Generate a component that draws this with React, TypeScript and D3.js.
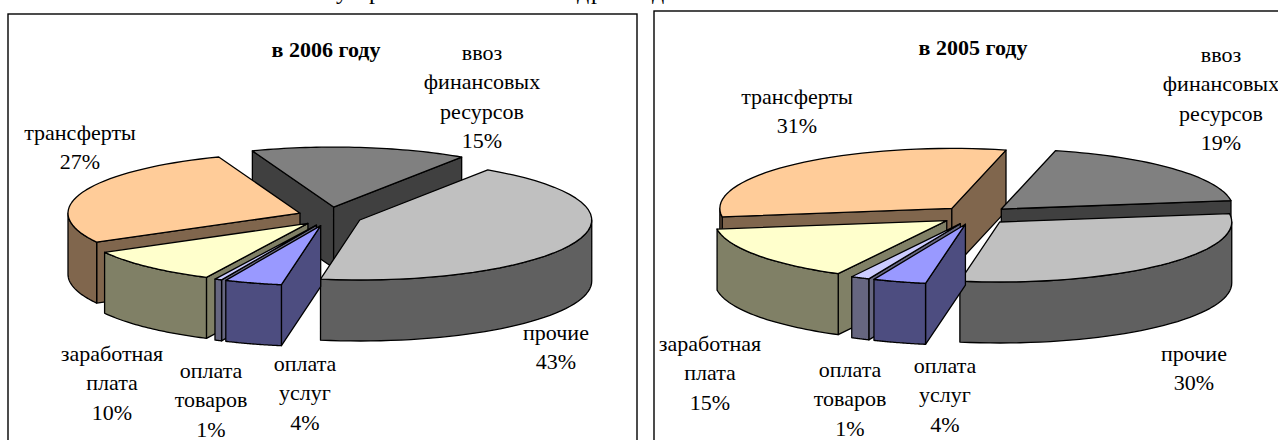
import React from "react";
import * as d3 from "d3";

const W = 1278;
const H = 440;

// order is clockwise, starting from the back slice
const categories = ["ввоз финансовых ресурсов", "прочие", "оплата услуг", "оплата товаров", "заработная плата", "трансферты"];
const values2006 = [15, 43.4, 4, 0.5, 9.8, 27.3];
const values2005 = [19, 30, 3.7, 1.3, 15, 31];

const labelLines = [
  ["ввоз", "финансовых", "ресурсов"],
  ["прочие"],
  ["оплата", "услуг"],
  ["оплата", "товаров"],
  ["заработная", "плата"],
  ["трансферты"],
];

// line above the charts, cut by the page edge: only the tails of these letters show
const cutLetters = ["у", "р", "д", "р", "д"];
const cutLetterX = [342, 375, 583, 597, 658];

const topColors = ["#808080", "#c0c0c0", "#9999ff", "#ccccff", "#ffffcc", "#ffcc99"];
const sideColors = ["#404040", "#606060", "#4d4d80", "#666680", "#808066", "#80664d"];

const LINE_H = 29.3;
const RX = 232;
const RY = 60;
const DEPTH = 61;

const charts = [
  {
    title: "в 2006 году",
    values: values2006,
    frame: { x: 8, y: 14, w: 629, h: 440 },
    titlePos: [326, 57],
    cx: 330,
    cy: 216.5,
    explodeX: 32,
    explodeY: 9.5,
    startDeg: -20.5,
    // first baseline of every label
    labelPos: [[482, 60], [556, 340], [305, 371], [211, 378], [112, 361], [80, 140]],
  },
  {
    title: "в 2005 году",
    values: values2005,
    frame: { x: 654, y: 11, w: 640, h: 440 },
    titlePos: [973, 55],
    cx: 975.4,
    cy: 215.3,
    explodeX: 35,
    explodeY: 9.3,
    startDeg: 13.5,
    labelPos: [[1221, 62], [1194, 361], [945, 373], [850, 377], [710, 351], [797, 104]],
  },
];

const line = d3.line<[number, number]>();

function Pie3D({ chart }: { chart: (typeof charts)[number] }) {
  const start = (chart.startDeg * Math.PI) / 180;
  const arcs = d3.pie<number>().sort(null).startAngle(start).endAngle(start + 2 * Math.PI)(chart.values);

  const slices = arcs.map((a, i) => {
    const mid = (a.startAngle + a.endAngle) / 2;
    const ox = chart.cx + chart.explodeX * Math.sin(mid);
    const oy = chart.cy - chart.explodeY * Math.cos(mid);
    const pt = (t: number, dz = 0): [number, number] => [ox + RX * Math.sin(t), oy - RY * Math.cos(t) + dz];
    const arcPts = (t0: number, t1: number, dz = 0) =>
      d3.range(0, 41).map((k) => pt(t0 + ((t1 - t0) * k) / 40, dz));

    const faces: { d: string; fill: string }[] = [];
    const apex: [number, number] = [ox, oy];
    const apexLow: [number, number] = [ox, oy + DEPTH];

    // radial faces, only those turned to the viewer
    if (Math.sin(a.startAngle) < 0) {
      faces.push({
        d: line([apex, pt(a.startAngle), pt(a.startAngle, DEPTH), apexLow])! + "Z",
        fill: sideColors[i],
      });
    }
    if (Math.sin(a.endAngle) > 0) {
      faces.push({
        d: line([apex, pt(a.endAngle), pt(a.endAngle, DEPTH), apexLow])! + "Z",
        fill: sideColors[i],
      });
    }

    // outer wall, front half of the ellipse
    for (const shift of [0, 2 * Math.PI, -2 * Math.PI]) {
      const t0 = Math.max(a.startAngle, Math.PI / 2 + shift);
      const t1 = Math.min(a.endAngle, (3 * Math.PI) / 2 + shift);
      if (t1 > t0) {
        faces.push({
          d: line([...arcPts(t0, t1), ...arcPts(t1, t0, DEPTH)])! + "Z",
          fill: sideColors[i],
        });
      }
    }

    const top = line([apex, ...arcPts(a.startAngle, a.endAngle)])! + "Z";
    return { i, oy, faces, top };
  });

  // painter's order, far slices first
  const ordered = d3.sort(slices, (s) => s.oy);

  return (
    <g>
      <rect
        x={chart.frame.x}
        y={chart.frame.y}
        width={chart.frame.w}
        height={chart.frame.h}
        fill="#fff"
        stroke="#000"
        strokeWidth={1.4}
      />
      {ordered.map((s) => (
        <g key={s.i} stroke="#000" strokeWidth={1.3} strokeLinejoin="round">
          {s.faces.map((f, k) => (
            <path key={k} d={f.d} fill={f.fill} />
          ))}
          <path d={s.top} fill={topColors[s.i]} />
        </g>
      ))}
      <text x={chart.titlePos[0]} y={chart.titlePos[1]} textAnchor="middle" fontWeight="bold" fontSize={22}>
        {chart.title}
      </text>
      {categories.map((c, i) => {
        const lines = [...labelLines[i], Math.round(chart.values[i]) + "%"];
        return (
          <text key={c} textAnchor="middle" fontSize={22}>
            {lines.map((t, k) => (
              <tspan key={k} x={chart.labelPos[i][0]} y={chart.labelPos[i][1] + k * LINE_H}>
                {t}
              </tspan>
            ))}
          </text>
        );
      })}
    </g>
  );
}

export default function App() {
  return (
    <svg
      width={W}
      height={H}
      viewBox={`0 0 ${W} ${H}`}
      style={{ position: "absolute", left: 0, top: 0, fontFamily: "'Liberation Serif', serif" }}
    >
      <rect width={W} height={H} fill="#fff" />
      {cutLetters.map((t, i) => (
        <text key={i} x={cutLetterX[i]} y={-1} textAnchor="middle" fontSize={24}>
          {t}
        </text>
      ))}
      {charts.map((c) => (
        <Pie3D key={c.title} chart={c} />
      ))}
    </svg>
  );
}
